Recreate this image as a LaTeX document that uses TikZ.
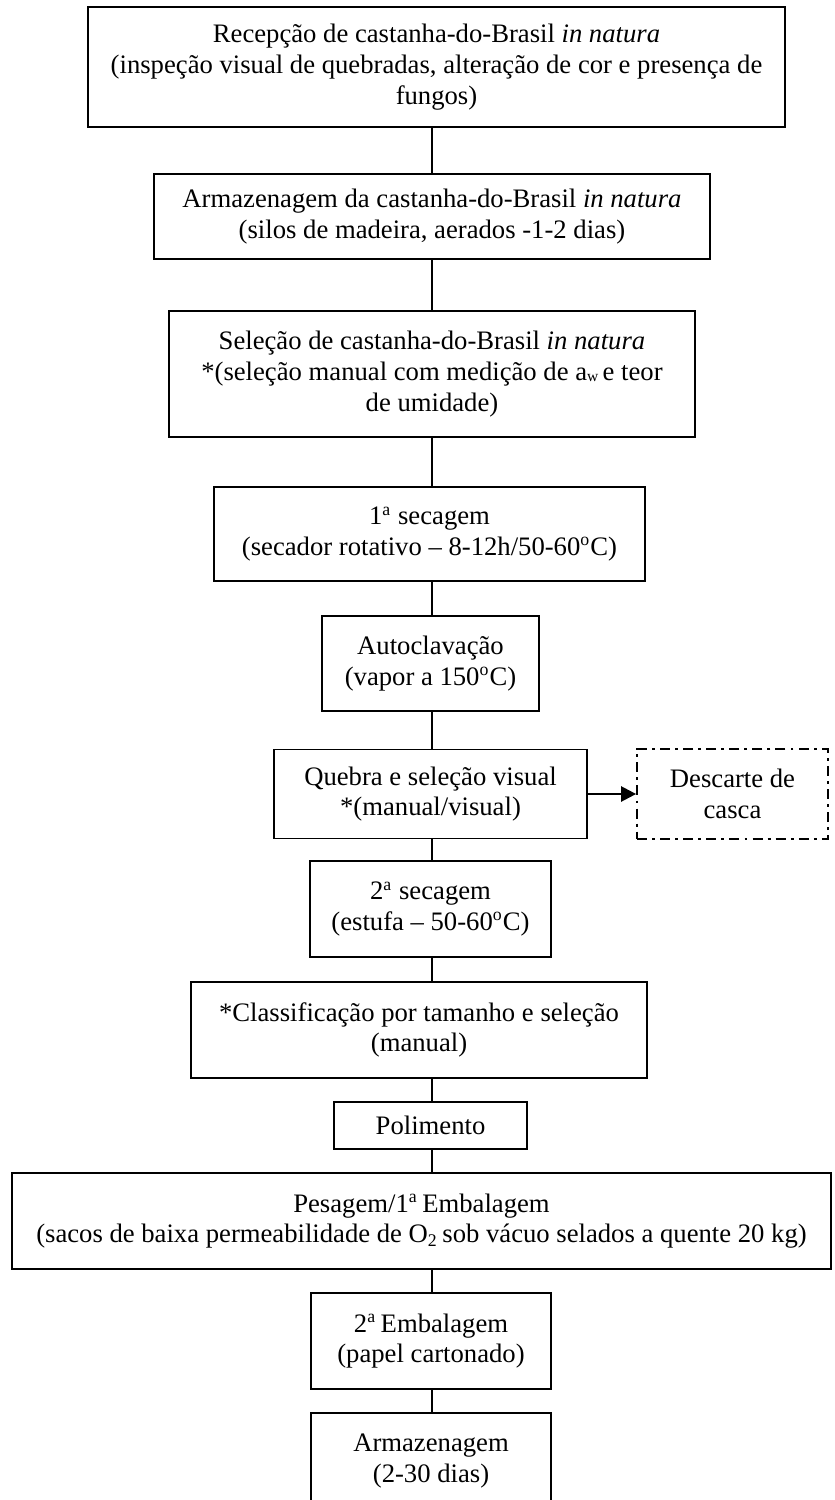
\documentclass[tikz,border=0pt]{standalone}
\usepackage{fontspec}
\setmainfont{Liberation Serif}
\usetikzlibrary{arrows.meta}
\tikzset{
  box/.style={draw, line width=0.8pt, rectangle, inner sep=0pt, align=center,
    font=\fontsize{12pt}{13.8pt}\selectfont},
  dashbox/.style={box, dash pattern=on 4.5pt off 2.3pt on 1.3pt off 2.3pt},
  link/.style={line width=0.8pt},
  arr/.style={line width=1.1pt, -{Triangle[length=6.8pt,width=6.8pt]}}
}
\newcommand{\sa}{\textsuperscript{a}}
\newcommand{\so}{\textsuperscript{o}}
\begin{document}
\begin{tikzpicture}[x=0.45pt, y=-0.45pt]
\useasboundingbox (0,0) rectangle (835,1500);
\coordinate (spine) at (432,0);
\node[box, minimum width=697*0.45pt, minimum height=120*0.45pt] (b1) at (436.5,67)
  {Recepção de castanha-do-Brasil \textit{in natura}\\(inspeção visual de quebradas, alteração de cor e presença de\\fungos)};
\node[box, minimum width=556*0.45pt, minimum height=85*0.45pt] (b2) at (432,216.5)
  {Armazenagem da castanha-do-Brasil \textit{in natura}\\(silos de madeira, aerados -1-2 dias)};
\node[box, minimum width=526*0.45pt, minimum height=126*0.45pt] (b3) at (432,374)
  {Seleção de castanha-do-Brasil \textit{in natura}\\*(seleção manual com medição de a\raisebox{-0.4pt}{\scriptsize w}\,e teor\\de umidade)};
\node[box, minimum width=431*0.45pt, minimum height=94*0.45pt] (b4) at (429.5,534)
  {1\sa{} secagem\\(secador rotativo -- 8-12h/50-60\so C)};
\node[box, minimum width=217*0.45pt, minimum height=95*0.45pt] (b5) at (430.5,663.5)
  {Autoclavação\\(vapor a 150\so C)};
\node[box, minimum width=313*0.45pt, minimum height=89*0.45pt] (b6) at (430.5,794)
  {Quebra e seleção visual\\*(manual/visual)};
\node[dashbox, minimum width=191*0.45pt, minimum height=90*0.45pt] (d) at (732.5,794)
  {Descarte de\\casca};
\node[box, minimum width=241*0.45pt, minimum height=96*0.45pt] (b7) at (430.5,909)
  {2\sa{} secagem\\(estufa -- 50-60\so C)};
\node[box, minimum width=456*0.45pt, minimum height=96*0.45pt] (b8) at (419,1030)
  {*Classificação por tamanho e seleção\\(manual)};
\node[box, minimum width=193*0.45pt, minimum height=47*0.45pt] (b9) at (430.5,1125.5)
  {Polimento};
\node[box, minimum width=819*0.45pt, minimum height=96*0.45pt] (b10) at (421.5,1221)
  {Pesagem/1\sa\,Embalagem\\(sacos de baixa permeabilidade de O\textsubscript{2}\,sob vácuo selados a quente 20 kg)};
\node[box, minimum width=240*0.45pt, minimum height=96*0.45pt] (b11) at (431,1341)
  {2\sa\,Embalagem\\(papel cartonado)};
\node[box, minimum width=240*0.45pt, minimum height=96*0.45pt] (b12) at (431,1461)
  {Armazenagem\\(2-30 dias)};
\draw[link] (b1.south -| spine) -- (b2.north -| spine);
\draw[link] (b2.south -| spine) -- (b3.north -| spine);
\draw[link] (b3.south -| spine) -- (b4.north -| spine);
\draw[link] (b4.south -| spine) -- (b5.north -| spine);
\draw[link] (b5.south -| spine) -- (b6.north -| spine);
\draw[link] (b6.south -| spine) -- (b7.north -| spine);
\draw[link] (b7.south -| spine) -- (b8.north -| spine);
\draw[link] (b8.south -| spine) -- (b9.north -| spine);
\draw[link] (b9.south -| spine) -- (b10.north -| spine);
\draw[link] (b10.south -| spine) -- (b11.north -| spine);
\draw[link] (b11.south -| spine) -- (b12.north -| spine);
\draw[arr] (b6.east) -- (d.west);
\end{tikzpicture}
\end{document}
